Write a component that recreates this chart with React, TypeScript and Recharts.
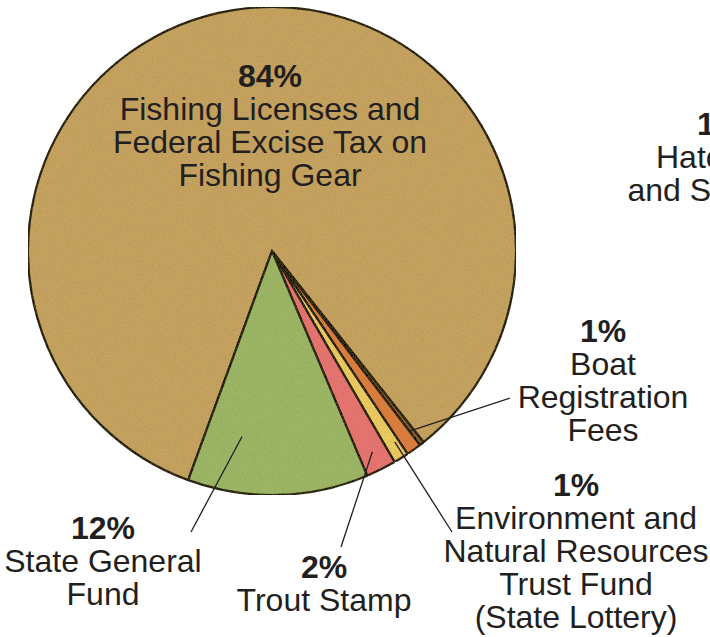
import { PieChart, Pie, Cell } from "recharts";

// funding sources, clockwise from the lower-left edge of the green slice
const sources = [
  "Fishing Licenses and Federal Excise Tax on Fishing Gear",
  "Hatchery and Stocking",
  "Boat Registration Fees",
  "Environment and Natural Resources Trust Fund (State Lottery)",
  "Trout Stamp",
  "State General Fund",
];
const shares = [84, 0.3, 1, 1, 2, 12];
const pctLabels = ["84%", "1%", "1%", "1%", "2%", "12%"];
const labelLines = [
  ["Fishing Licenses and", "Federal Excise Tax on", "Fishing Gear"],
  ["Hatchery", "and Stocking"],
  ["Boat", "Registration", "Fees"],
  ["Environment and", "Natural Resources", "Trust Fund", "(State Lottery)"],
  ["Trout Stamp"],
  ["State General", "Fund"],
];
const colors = ["#c9a562", "#8f5e30", "#e07e3c", "#f1cf62", "#ec7373", "#9cba67"];

// label placement (page px) and leader line anchors
const layout = [
  { tx: 270, ty: 87, line: false, dAngle: 0, rFrac: 0, x2: 0, y2: 0 },
  { tx: 720, ty: 135, line: false, dAngle: 0, rFrac: 0, x2: 0, y2: 0 },
  { tx: 603, ty: 342, line: true, dAngle: 2, rFrac: 0.93, x2: 510, y2: 398 },
  { tx: 576, ty: 496, line: true, dAngle: 0.8, rFrac: 0.93, x2: 452, y2: 532 },
  { tx: 324, ty: 578, line: true, dAngle: 0, rFrac: 0.92, x2: 341, y2: 547 },
  { tx: 103, ty: 539, line: true, dAngle: -10.6, rFrac: 0.77, x2: 191, y2: 532 },
];

const data = sources.map((name, i) => ({ name, value: shares[i] }));

const RADIAN = Math.PI / 180;
const FONT = "'Liberation Sans', Arial, Helvetica, sans-serif";
const LINE_H = 33;

function renderLabel(props: any) {
  const { cx, cy, midAngle, outerRadius, index } = props;
  const l = layout[index];
  let leader = null;
  if (l.line) {
    const a = (midAngle + l.dAngle) * RADIAN;
    const r = outerRadius * l.rFrac;
    const x1 = cx + r * Math.cos(-a);
    const y1 = cy + r * Math.sin(-a);
    leader = <line x1={x1} y1={y1} x2={l.x2} y2={l.y2} stroke="#231f20" strokeWidth={1.3} />;
  }
  return (
    <g key={`lbl-${index}`}>
      {leader}
      <text
        x={l.tx}
        y={l.ty}
        textAnchor="middle"
        fontFamily={FONT}
        fontSize={32}
        fill="#231f20"
      >
        <tspan x={l.tx} fontWeight="bold">
          {pctLabels[index]}
        </tspan>
        {labelLines[index].map((t, j) => (
          <tspan key={j} x={l.tx} dy={LINE_H}>
            {t}
          </tspan>
        ))}
      </text>
    </g>
  );
}

export default function App() {
  return (
    <div
      style={{
        position: "absolute",
        left: 0,
        top: 0,
        width: 710,
        height: 637,
        overflow: "hidden",
        background: "#fff",
      }}
    >
      <svg width={0} height={0} style={{ position: "absolute" }}>
        <defs>
          <filter id="grain" x="0" y="0" width="100%" height="100%">
            <feTurbulence type="fractalNoise" baseFrequency="0.9" numOctaves="2" seed="4" result="noise" />
            <feColorMatrix
              in="noise"
              type="matrix"
              values="0 0 0 0 0.25  0 0 0 0 0.18  0 0 0 0 0.05  0 0 0 -0.6 0.42"
              result="speck"
            />
            <feComposite in="speck" in2="SourceGraphic" operator="in" result="speckIn" />
            <feMerge>
              <feMergeNode in="SourceGraphic" />
              <feMergeNode in="speckIn" />
            </feMerge>
          </filter>
        </defs>
      </svg>
      <PieChart width={710} height={637} margin={{ top: 0, right: 0, bottom: 0, left: 0 }}>
        <Pie
          data={data}
          dataKey="value"
          nameKey="name"
          cx={272}
          cy={251}
          outerRadius={244}
          startAngle={249.9}
          endAngle={-110.1}
          stroke="#111"
          strokeWidth={2.2}
          labelLine={false}
          label={renderLabel}
          isAnimationActive={false}
        >
          {data.map((d, i) => (
            <Cell key={d.name} fill={colors[i]} filter="url(#grain)" />
          ))}
        </Pie>
      </PieChart>
    </div>
  );
}
